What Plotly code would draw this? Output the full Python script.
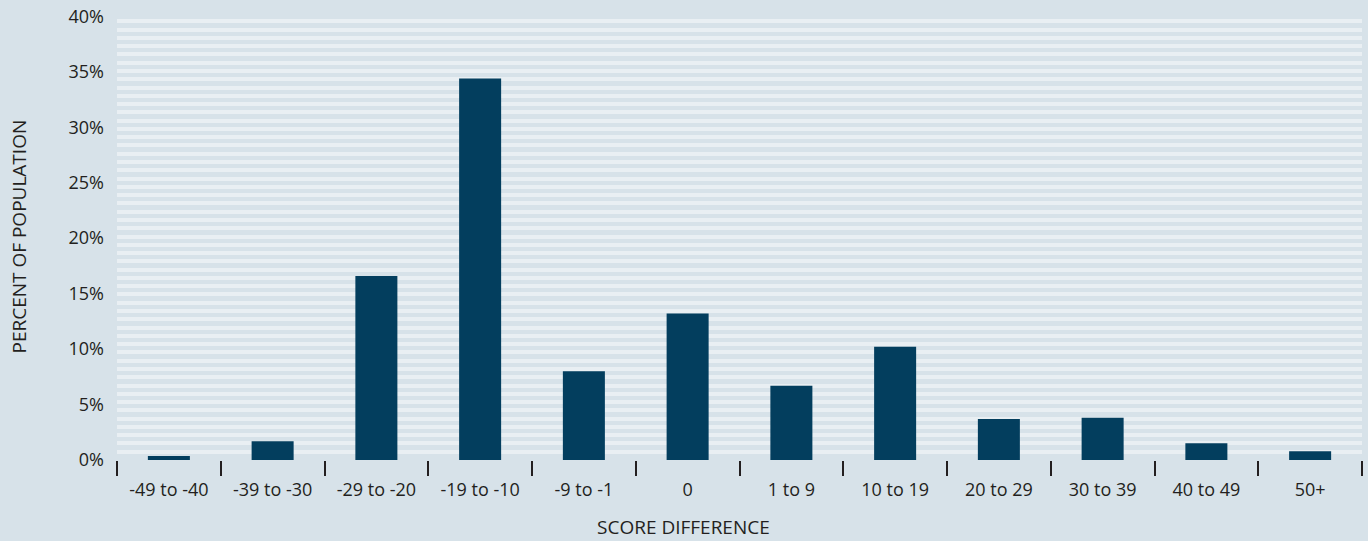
import plotly.graph_objects as go

categories = ["-49 to -40", "-39 to -30", "-29 to -20", "-19 to -10", "-9 to -1", "0",
              "1 to 9", "10 to 19", "20 to 29", "30 to 39", "40 to 49", "50+"]
percent = [0.35, 1.7, 16.6, 34.4, 8.0, 13.2, 6.7, 10.2, 3.7, 3.8, 1.5, 0.8]
y_ticks = [0, 5, 10, 15, 20, 25, 30, 35, 40]
y_tick_labels = [f"{v}%" for v in y_ticks]
x_title = "SCORE DIFFERENCE"
y_title = "PERCENT OF POPULATION"

BG = "#d7e2e9"
STRIPE = "#e9eff3"
BAR = "#033e5e"
TXT = "#231f20"
FONT = "Open Sans"

fig = go.Figure(go.Bar(x=categories, y=percent, marker=dict(color=BAR, line=dict(width=0)),
                       width=0.405))

fig.update_layout(
    width=1368, height=541,
    paper_bgcolor=BG, plot_bgcolor=BG,
    margin=dict(l=117, r=6, t=13, b=81),
    font=dict(family=FONT, color=TXT, size=18),
    showlegend=False,
    annotations=[
        dict(text=x_title, xref="paper", yref="paper", x=0.455, y=-0.150,
             xanchor="center", yanchor="middle", showarrow=False,
             font=dict(size=19, family=FONT, color=TXT)),
        dict(text=y_title, xref="paper", yref="paper", x=-0.0795, y=0.5, textangle=-90,
             xanchor="center", yanchor="middle", showarrow=False,
             font=dict(size=19, family=FONT, color=TXT)),
    ],
)
fig.update_xaxes(
    type="category", tickson="boundaries", ticks="outside", ticklen=15, tickwidth=2,
    tickcolor=TXT, showgrid=False, showline=False, zeroline=False,
    tickfont=dict(size=18, family=FONT, color=TXT), ticklabelstandoff=17,
    automargin=False,
)
fig.update_yaxes(
    range=[0, 40.3], tickvals=y_ticks, ticktext=y_tick_labels, showgrid=False,
    zeroline=False, showline=False, ticks="", ticklabelstandoff=12,
    tickfont=dict(size=18, family=FONT, color=TXT),
    minor=dict(tick0=0, dtick=40.3 / 54, showgrid=True, gridcolor=STRIPE, gridwidth=3.5),
    automargin=False,
)
fig.write_html("out.html")
